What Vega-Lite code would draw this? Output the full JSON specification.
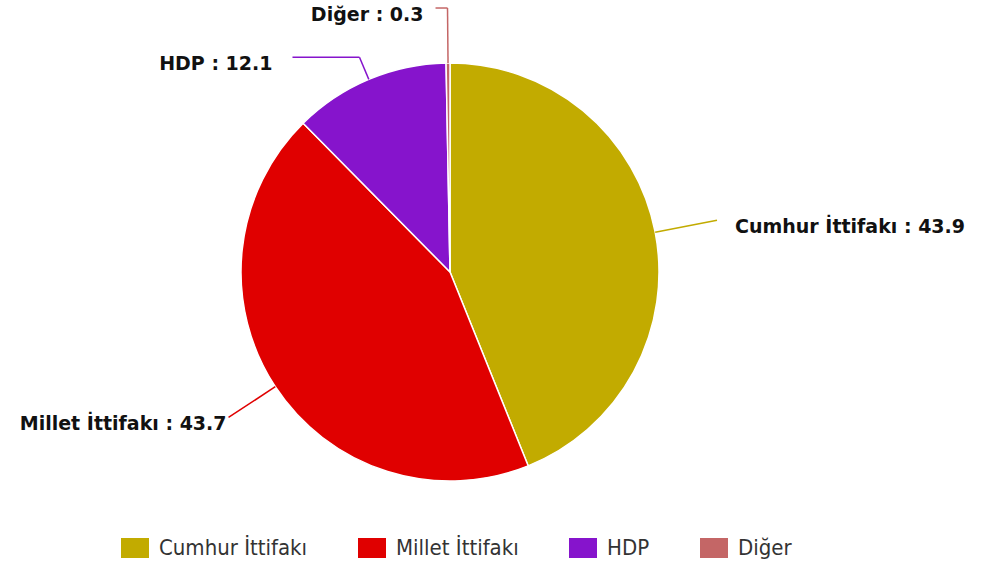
{
  "$schema": "https://vega.github.io/schema/vega-lite/v6.json",
  "width": 987,
  "height": 578,
  "autosize": "none",
  "padding": 0,
  "background": "white",
  "config": {"view": {"stroke": null}},
  "data": {
    "values": [
      {"parti": "Cumhur İttifakı", "oy": 43.9, "sira": 1},
      {"parti": "Millet İttifakı", "oy": 43.7, "sira": 2},
      {"parti": "HDP", "oy": 12.1, "sira": 3},
      {"parti": "Diğer", "oy": 0.3, "sira": 4}
    ]
  },
  "transform": [
    {"window": [{"op": "sum", "field": "oy", "as": "cum"}], "sort": [{"field": "sira", "order": "ascending"}], "frame": [null, 0]},
    {"joinaggregate": [{"op": "sum", "field": "oy", "as": "tot"}]},
    {"calculate": "2*PI*(datum.cum - datum.oy/2)/datum.tot", "as": "mid"},
    {"calculate": "sin(datum.mid)", "as": "s"},
    {"calculate": "cos(datum.mid)", "as": "c"},
    {"calculate": "datum.s >= 0 ? 1 : -1", "as": "side"},
    {"calculate": "datum.parti == 'Cumhur İttifakı' ? 272 : datum.parti == 'Millet İttifakı' ? 265 : datum.parti == 'HDP' ? 233 : 264", "as": "r2"},
    {"calculate": "datum.parti == 'HDP' ? 67 : datum.parti == 'Diğer' ? 12 : 0", "as": "h"},
    {"calculate": "datum.parti == 'Cumhur İttifakı' ? 18 : datum.parti == 'Millet İttifakı' ? 2 : datum.parti == 'HDP' ? 20 : 12", "as": "gap"},
    {"calculate": "209*datum.s", "as": "ex"},
    {"calculate": "209*datum.c", "as": "ey"},
    {"calculate": "datum.r2*datum.s", "as": "kx"},
    {"calculate": "datum.r2*datum.c", "as": "ky"},
    {"calculate": "datum.kx + datum.side*datum.h", "as": "hx"},
    {"calculate": "datum.hx + datum.side*datum.gap", "as": "lx"},
    {"calculate": "datum.ky - 7", "as": "ly"},
    {"calculate": "datum.parti + ' : ' + format(datum.oy, '.1f')", "as": "etiket"}
  ],
  "layer": [
    {
      "mark": {"type": "arc", "outerRadius": 209, "x": 450, "y": 272, "stroke": "white", "strokeWidth": 1.5},
      "encoding": {
        "theta": {"field": "oy", "type": "quantitative", "stack": true},
        "order": {"field": "sira", "type": "quantitative"},
        "color": {
          "field": "parti",
          "type": "nominal",
          "scale": {
            "domain": ["Cumhur İttifakı", "Millet İttifakı", "HDP", "Diğer"],
            "range": ["#c2ab00", "#e00000", "#8614cc", "#c46666"]
          },
          "legend": {
            "title": null,
            "orient": "none",
            "legendX": 124,
            "legendY": 537,
            "direction": "horizontal",
            "padding": 0,
            "symbolType": "M-1.4,-1H1.4V1H-1.4Z",
            "symbolSize": 400,
            "symbolStrokeWidth": 0,
            "symbolOpacity": 1,
            "labelFont": "DejaVu Sans Condensed",
            "labelFontSize": 22,
            "labelColor": "#333333",
            "labelOffset": 13,
            "columnPadding": 50,
            "labelLimit": 300
          }
        }
      }
    },
    {
      "mark": {"type": "rule", "strokeWidth": 1.5},
      "encoding": {
        "x": {"field": "ex", "type": "quantitative", "scale": {"domain": [-450, 537], "nice": false, "zero": false}, "axis": null},
        "y": {"field": "ey", "type": "quantitative", "scale": {"domain": [-306, 272], "nice": false, "zero": false}, "axis": null},
        "x2": {"field": "kx"},
        "y2": {"field": "ky"},
        "color": {"field": "parti", "type": "nominal", "legend": null}
      }
    },
    {
      "mark": {"type": "rule", "strokeWidth": 1.5},
      "encoding": {
        "x": {"field": "kx", "type": "quantitative", "axis": null},
        "y": {"field": "ky", "type": "quantitative", "axis": null},
        "x2": {"field": "hx"},
        "y2": {"field": "ky"},
        "color": {"field": "parti", "type": "nominal", "legend": null}
      }
    },
    {
      "transform": [{"filter": "datum.side > 0"}],
      "mark": {"type": "text", "align": "left", "baseline": "middle", "font": "DejaVu Sans", "fontWeight": "bold", "fontSize": 19, "color": "#111111"},
      "encoding": {
        "x": {"field": "lx", "type": "quantitative", "axis": null},
        "y": {"field": "ly", "type": "quantitative", "axis": null},
        "text": {"field": "etiket"}
      }
    },
    {
      "transform": [{"filter": "datum.side < 0"}],
      "mark": {"type": "text", "align": "right", "baseline": "middle", "font": "DejaVu Sans", "fontWeight": "bold", "fontSize": 19, "color": "#111111"},
      "encoding": {
        "x": {"field": "lx", "type": "quantitative", "axis": null},
        "y": {"field": "ly", "type": "quantitative", "axis": null},
        "text": {"field": "etiket"}
      }
    }
  ]
}
